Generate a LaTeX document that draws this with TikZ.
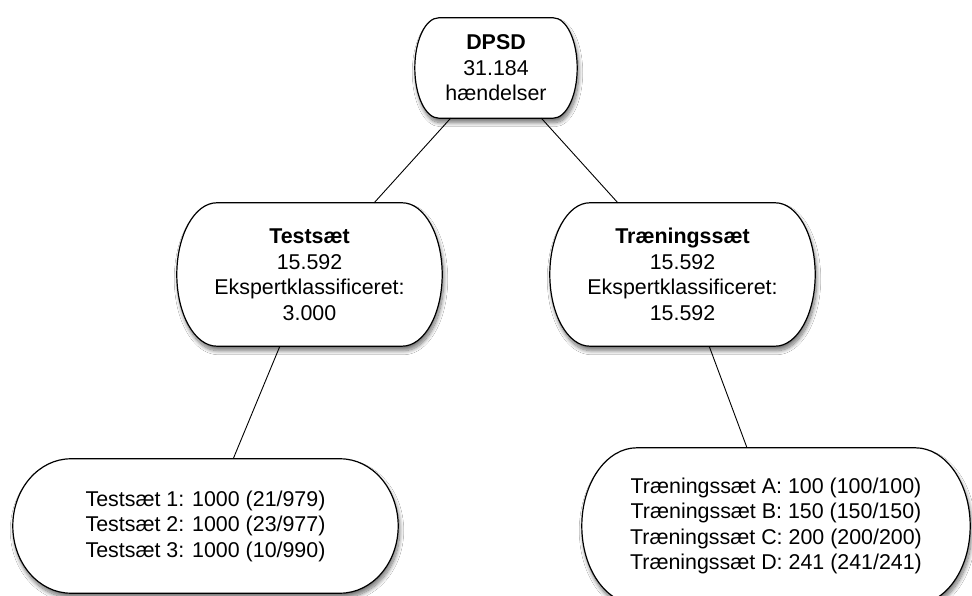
\documentclass[tikz,border=0pt]{standalone}
\usepackage{fontspec}
\setmainfont{Liberation Sans}
\usetikzlibrary{calc,backgrounds,shadows.blur}

\tikzset{
  box/.style={rectangle, draw=none, inner sep=0pt, align=center,
    font=\fontsize{21.4}{25.5}\selectfont},
  boxline/.style={draw=black, line width=1.2pt, fill=white,
    blur shadow={shadow xshift=1.5pt, shadow yshift=-4.5pt,
      shadow blur radius=4pt, shadow opacity=55, shadow blur steps=12}},
  link/.style={draw=black, line width=0.9pt},
}

% Outline of a box with flat top/bottom and half-ellipse sides;
% #1 = node name, #2 = horizontal radius of the side arcs (pt)
\newcommand\sidearcs[2]{%
  \path[boxline] let \p1=(#1.north west), \p2=(#1.south east),
      \n1={(\y1-\y2)/2} in
    (\x1+#2pt,\y1) -- (\x2-#2pt,\y1)
    arc[start angle=90, end angle=-90, x radius=#2pt, y radius=\n1]
    -- (\x1+#2pt,\y2)
    arc[start angle=270, end angle=90, x radius=#2pt, y radius=\n1]
    -- cycle;}

\begin{document}
\begin{tikzpicture}[x=1pt,y=1pt]
\useasboundingbox (0,0) rectangle (972,596);

\node[box, minimum width=162pt, minimum height=100pt] (dpsd) at (496,528)
  {\textbf{DPSD}\\31.184\\hændelser};
\node[box, minimum width=265pt, minimum height=143pt] (test) at (309.5,321.5)
  {\textbf{Testsæt}\\15.592\\Ekspertklassificeret:\\3.000};
\node[box, minimum width=265pt, minimum height=143pt] (train) at (682.5,321.5)
  {\textbf{Træningssæt}\\15.592\\Ekspertklassificeret:\\15.592};
\node[box, minimum width=385pt, minimum height=134pt] (testsets) at (205.5,70)
  {Testsæt 1: 1000 (21/979)\\Testsæt 2: 1000 (23/977)\\Testsæt 3: 1000 (10/990)};
\node[box, minimum width=388pt, minimum height=156pt] (trainsets) at (776,70)
  {Træningssæt A: 100 (100/100)\\Træningssæt B: 150 (150/150)\\
   Træningssæt C: 200 (200/200)\\Træningssæt D: 241 (241/241)};

\begin{scope}[on background layer]
  \fill[white] (0,0) rectangle (972,596);
  \sidearcs{dpsd}{24}
  \sidearcs{test}{40}
  \sidearcs{train}{40}
  \sidearcs{testsets}{58}
  \sidearcs{trainsets}{55}
\end{scope}

\draw[link] (dpsd) -- (test);
\draw[link] (dpsd) -- (train);
\draw[link] (test) -- (testsets);
\draw[link] (train) -- (trainsets);
\end{tikzpicture}
\end{document}
